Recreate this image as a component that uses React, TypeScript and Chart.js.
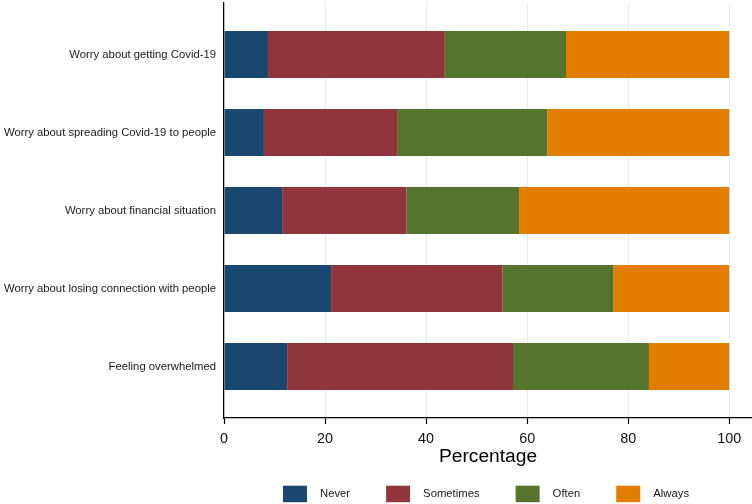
import React, { useEffect, useRef } from 'react';
import { Chart, registerables } from 'chart.js';

Chart.register(...registerables);

const FONT = '"Liberation Sans", Arial, Helvetica, sans-serif';

const categories = [
  'Worry about getting Covid-19',
  'Worry about spreading Covid-19 to people',
  'Worry about financial situation',
  'Worry about losing connection with people',
  'Feeling overwhelmed',
];
const seriesNames = ['Never', 'Sometimes', 'Often', 'Always'];
const never = [8.7, 7.9, 11.5, 21.2, 12.5];
const sometimes = [35.0, 26.5, 24.6, 33.9, 44.7];
const often = [24.0, 29.6, 22.3, 22.0, 26.9];
const always = [32.3, 36.0, 41.6, 22.9, 15.9];
const xTicks = [0, 20, 40, 60, 80, 100];
const seriesColors = ['#1a476f', '#90353b', '#55752f', '#e37e00'];

const legendPlugin = {
  id: 'bottomLegend',
  afterDraw(chart: any) {
    const ctx = chart.ctx;
    const ca = chart.chartArea;
    ctx.save();
    ctx.font = `11.3px ${FONT}`;
    const boxW = 24;
    const boxH = 16.5;
    const textGap = 13;
    const itemGap = 36;
    const ds = chart.data.datasets;
    const widths = ds.map((d: any) => boxW + textGap + ctx.measureText(d.label).width);
    const total = widths.reduce((a: number, b: number) => a + b, 0) + itemGap * (widths.length - 1);
    let x = (ca.left + ca.right) / 2 - total / 2 - 2;
    const yTop = ca.bottom + 67.7;
    ds.forEach((d: any, i: number) => {
      ctx.fillStyle = d.backgroundColor;
      ctx.fillRect(x, yTop, boxW, boxH);
      ctx.fillStyle = '#1a1a1a';
      ctx.textAlign = 'left';
      ctx.textBaseline = 'middle';
      ctx.fillText(d.label, x + boxW + textGap, yTop + boxH / 2);
      x += widths[i] + itemGap;
    });
    ctx.restore();
  },
};

export default function App() {
  const ref = useRef<HTMLCanvasElement | null>(null);

  useEffect(() => {
    if (!ref.current) return;
    const seriesValues = [never, sometimes, often, always];
    const chart = new Chart(ref.current, {
      type: 'bar',
      data: {
        datasets: seriesNames.map((name, s) => ({
          label: name,
          data: seriesValues[s].map((v, i) => ({ x: v, y: i })),
          backgroundColor: seriesColors[s],
          borderWidth: 0,
          barPercentage: 0.6,
          categoryPercentage: 1,
        })),
      },
      options: {
        indexAxis: 'y',
        responsive: false,
        animation: false,
        devicePixelRatio: 1,
        layout: { padding: { top: 3, right: 0, left: 0, bottom: 36 } },
        plugins: {
          legend: { display: false },
          tooltip: { enabled: false },
        },
        scales: {
          x: {
            type: 'linear',
            stacked: true,
            min: 0,
            max: 104.5,
            afterBuildTicks: (s: any) => {
              s.ticks = xTicks.map((v) => ({ value: v }));
            },
            afterFit: (s: any) => {
              s.height = 50;
            },
            grid: {
              color: '#e4edf2',
              lineWidth: 1,
              tickColor: '#000',
              tickLength: 6,
              tickWidth: 1.2,
            },
            border: { display: true, color: '#000', width: 1.2 },
            ticks: {
              font: { family: FONT, size: 14.4 },
              color: '#111',
              padding: 6,
              maxRotation: 0,
            },
            title: {
              display: true,
              text: 'Percentage',
              font: { family: FONT, size: 19.2 },
              color: '#000',
              padding: { top: 0, bottom: 0 },
            },
          },
          y: {
            type: 'linear',
            stacked: true,
            reverse: true,
            offset: false,
            min: -0.66,
            max: 4.66,
            afterBuildTicks: (s: any) => {
              s.ticks = categories.map((_, i) => ({ value: i }));
            },
            afterFit: (s: any) => {
              s.width = 224;
              s.paddingTop = 0;
              s.paddingBottom = 0;
            },
            grid: { display: false, drawTicks: false, tickLength: 0, offset: false },
            border: { display: true, color: '#000', width: 1.2 },
            ticks: {
              font: { family: FONT, size: 11.3 },
              color: '#1a1a1a',
              padding: 8,
              callback: (v: any) => categories[Math.round(Number(v))] ?? '',
            },
          },
        },
      } as any,
      plugins: [legendPlugin],
    });
    return () => chart.destroy();
  }, []);

  return (
    <div style={{ position: 'fixed', left: 0, top: 0, width: 752, height: 504, background: '#fff' }}>
      <canvas ref={ref} width={752} height={504} />
    </div>
  );
}
